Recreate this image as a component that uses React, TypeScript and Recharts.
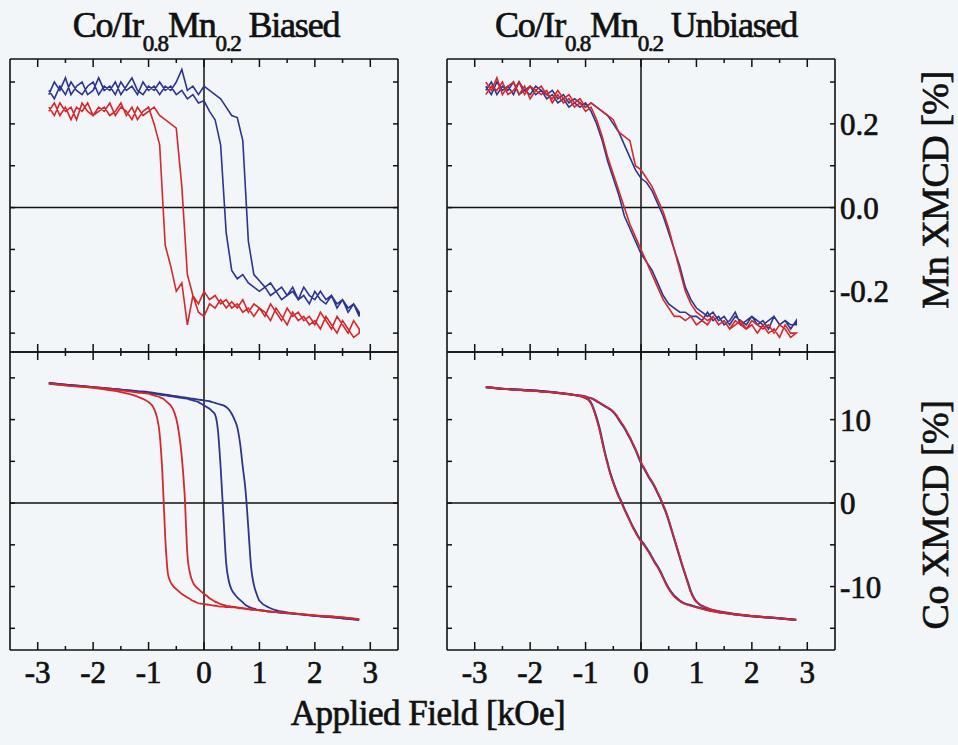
import React from "react";
import { LineChart, Line, XAxis, YAxis, ReferenceLine } from "recharts";

const BLUE = "#2c3590";
const RED = "#d6282c";
const INK = "#111111";
const FONT = "'Liberation Serif', 'DejaVu Serif', serif";

// applied field grid for the Mn XMCD loops (kOe)
const fieldMn = [
  -2.8, -2.7, -2.6, -2.5, -2.4, -2.3, -2.2, -2.1, -2.0, -1.9,
  -1.8, -1.7, -1.6, -1.5, -1.4, -1.3, -1.2, -1.1, -1.0, -0.9,
  -0.8, -0.7, -0.6, -0.5, -0.4, -0.3, -0.2, -0.1, 0, 0.1,
  0.2, 0.3, 0.4, 0.5, 0.6, 0.7, 0.8, 0.9, 1.0, 1.1,
  1.2, 1.3, 1.4, 1.5, 1.6, 1.7, 1.8, 1.9, 2.0, 2.1,
  2.2, 2.3, 2.4, 2.5, 2.6, 2.7, 2.8,
];

// Mn XMCD [%], biased sample
const mnBiasedBlueUp = [
  0.27, 0.30, 0.28, 0.31, 0.27, 0.29, 0.30, 0.27, 0.28, 0.31,
  0.28, 0.29, 0.27, 0.30, 0.28, 0.29, 0.27, 0.30, 0.28, 0.29,
  0.27, 0.29, 0.28, 0.30, 0.33, 0.28, 0.29, 0.27, 0.29, 0.28,
  0.27, 0.26, 0.24, 0.22, 0.215, 0.16, -0.08, -0.16, -0.175, -0.19,
  -0.18, -0.20, -0.19, -0.21, -0.20, -0.22, -0.19, -0.21, -0.22, -0.20,
  -0.22, -0.21, -0.23, -0.22, -0.24, -0.23, -0.25,
];
const mnBiasedBlueDown = [
  0.28, 0.26, 0.29, 0.27, 0.30, 0.28, 0.27, 0.29, 0.30, 0.27,
  0.29, 0.28, 0.30, 0.27, 0.29, 0.31, 0.28, 0.27, 0.29, 0.28,
  0.30, 0.28, 0.29, 0.27, 0.28, 0.26, 0.27, 0.25, 0.255, 0.23,
  0.21, 0.15, -0.06, -0.15, -0.17, -0.16, -0.18, -0.19, -0.20, -0.19,
  -0.21, -0.20, -0.22, -0.21, -0.19, -0.22, -0.21, -0.23, -0.20, -0.22,
  -0.23, -0.21, -0.24, -0.22, -0.25, -0.23, -0.26,
];
const mnBiasedRedUp = [
  0.24, 0.22, 0.25, 0.23, 0.24, 0.21, 0.25, 0.23, 0.22, 0.24,
  0.23, 0.25, 0.22, 0.24, 0.23, 0.21, 0.24, 0.22, 0.23, 0.24,
  0.22, 0.21, 0.20, 0.19, 0.05, -0.16, -0.21, -0.25, -0.26, -0.23,
  -0.24, -0.22, -0.24, -0.225, -0.24, -0.22, -0.25, -0.23, -0.24, -0.26,
  -0.23, -0.25, -0.27, -0.24, -0.26, -0.25, -0.27, -0.26, -0.28, -0.25,
  -0.27, -0.29, -0.26, -0.28, -0.30, -0.27, -0.29,
];
const mnBiasedRedDown = [
  0.23, 0.25, 0.22, 0.24, 0.21, 0.24, 0.23, 0.25, 0.22, 0.23,
  0.24, 0.22, 0.23, 0.25, 0.22, 0.24, 0.21, 0.23, 0.24, 0.20,
  0.15, -0.09, -0.14, -0.20, -0.18, -0.28, -0.21, -0.23, -0.20, -0.22,
  -0.21, -0.23, -0.22, -0.24, -0.23, -0.25, -0.24, -0.26, -0.24, -0.25,
  -0.27, -0.24, -0.26, -0.28, -0.25, -0.27, -0.26, -0.28, -0.27, -0.29,
  -0.26, -0.28, -0.30, -0.27, -0.29, -0.31, -0.30,
];

// Mn XMCD [%], unbiased sample
const mnUnbBlueUp = [
  0.29, 0.27, 0.30, 0.28, 0.29, 0.27, 0.30, 0.28, 0.27, 0.29,
  0.28, 0.27, 0.28, 0.26, 0.27, 0.25, 0.26, 0.25, 0.24, 0.25,
  0.24, 0.23, 0.22, 0.20, 0.18, 0.15, 0.12, 0.09, 0.07, 0.06,
  0.04, 0.01, -0.02, -0.06, -0.10, -0.14, -0.19, -0.22, -0.24, -0.25,
  -0.26, -0.25, -0.27, -0.26, -0.28, -0.26, -0.27, -0.28, -0.26, -0.27,
  -0.28, -0.27, -0.26, -0.28, -0.27, -0.29, -0.27,
];
const mnUnbBlueDown = [
  0.28, 0.30, 0.27, 0.29, 0.28, 0.30, 0.27, 0.28, 0.29, 0.27,
  0.28, 0.26, 0.27, 0.25, 0.26, 0.24, 0.25, 0.24, 0.25, 0.23,
  0.20, 0.16, 0.11, 0.07, 0.03, -0.02, -0.05, -0.08, -0.11, -0.13,
  -0.15, -0.18, -0.21, -0.23, -0.24, -0.25, -0.25, -0.26, -0.26, -0.27,
  -0.25, -0.27, -0.26, -0.28, -0.27, -0.25, -0.28, -0.27, -0.26, -0.28,
  -0.27, -0.29, -0.26, -0.28, -0.27, -0.28, -0.28,
];
const mnUnbRedUp = [
  0.30, 0.28, 0.31, 0.27, 0.29, 0.30, 0.27, 0.29, 0.26, 0.28,
  0.29, 0.27, 0.26, 0.28, 0.26, 0.27, 0.25, 0.26, 0.24, 0.25,
  0.24, 0.23, 0.22, 0.21, 0.18, 0.17, 0.16, 0.10, 0.09, 0.07,
  0.05, 0.02, -0.01, -0.05, -0.10, -0.15, -0.20, -0.23, -0.25, -0.26,
  -0.27, -0.26, -0.28, -0.27, -0.29, -0.27, -0.28, -0.29, -0.27, -0.28,
  -0.29, -0.28, -0.30, -0.28, -0.29, -0.31, -0.30,
];
const mnUnbRedDown = [
  0.27, 0.29, 0.28, 0.30, 0.27, 0.28, 0.30, 0.27, 0.29, 0.28,
  0.27, 0.28, 0.25, 0.27, 0.25, 0.26, 0.24, 0.25, 0.23, 0.24,
  0.21, 0.17, 0.12, 0.08, 0.04, 0.00, -0.04, -0.07, -0.10, -0.13,
  -0.16, -0.19, -0.22, -0.24, -0.26, -0.26, -0.27, -0.26, -0.28, -0.27,
  -0.28, -0.26, -0.28, -0.27, -0.29, -0.28, -0.27, -0.29, -0.28, -0.30,
  -0.28, -0.30, -0.29, -0.31, -0.28, -0.30, -0.30,
];

// applied field grid for the Co XMCD loops (kOe)
const fieldCo = [
  -2.8, -2.5, -2.0, -1.5, -1.2,
  -1.0, -0.95, -0.9, -0.85, -0.8, -0.75, -0.7, -0.65, -0.6, -0.55,
  -0.5, -0.45, -0.4, -0.35, -0.3, -0.25, -0.2, -0.15, -0.1, -0.05,
  0, 0.05, 0.1, 0.15, 0.2, 0.25, 0.3, 0.35, 0.4, 0.45,
  0.5, 0.55, 0.6, 0.65, 0.7, 0.75, 0.8, 0.85, 0.9, 0.95,
  1.0, 1.2, 1.5, 2.0, 2.5, 2.8,
];

// Co XMCD [%], biased sample
const coBiasedBlueUp = [
  14.4, 14.2, 13.9, 13.6, 13.4,
  13.3, 13.25, 13.2, 13.15, 13.1, 13.05, 13.0, 12.95, 12.9, 12.85,
  12.8, 12.75, 12.7, 12.65, 12.6, 12.55, 12.5, 12.45, 12.4, 12.35,
  12.3, 12.25, 12.2, 12.1, 12.0, 11.9, 11.8, 11.7, 11.5, 11.2,
  10.7, 10.0, 9.1, 7.2, 4.3, 1.5, -3.0, -7.7, -9.8, -10.9,
  -11.7, -12.6, -13.1, -13.5, -13.8, -14.0,
];
const coBiasedBlueDown = [
  14.4, 14.2, 13.9, 13.6, 13.35,
  13.2, 13.15, 13.1, 13.05, 13.0, 12.95, 12.9, 12.85, 12.8, 12.75,
  12.7, 12.65, 12.6, 12.55, 12.5, 12.4, 12.3, 12.2, 12.1, 11.9,
  11.7, 11.5, 11.3, 11.0, 10.6, 8.8, 4.3, -1.5, -7.2, -9.4,
  -10.4, -10.9, -11.3, -11.6, -11.9, -12.2, -12.4, -12.55, -12.65, -12.75,
  -12.8, -13.0, -13.2, -13.5, -13.8, -14.0,
];
const coBiasedRedUp = [
  14.3, 14.1, 13.85, 13.5, 13.25,
  13.1, 13.0, 12.9, 12.8, 12.7, 12.55, 12.3, 12.0, 11.7, 11.1,
  10.1, 8.3, 5.5, 1.1, -6.1, -8.5, -9.5, -10.0, -10.3, -10.6,
  -10.9, -11.1, -11.4, -11.6, -11.8, -11.95, -12.1, -12.2, -12.3, -12.35,
  -12.4, -12.45, -12.5, -12.55, -12.6, -12.65, -12.7, -12.75, -12.8, -12.8,
  -12.85, -13.0, -13.15, -13.45, -13.7, -13.9,
];
const coBiasedRedDown = [
  14.3, 14.1, 13.8, 13.3, 12.75,
  12.1, 11.8, 11.3, 10.3, 8.3, 3.5, -4.0, -8.5, -9.5, -10.0,
  -10.3, -10.6, -10.9, -11.1, -11.3, -11.5, -11.7, -11.85, -12.0, -12.05,
  -12.1, -12.15, -12.2, -12.25, -12.3, -12.35, -12.4, -12.4, -12.45, -12.45,
  -12.5, -12.5, -12.55, -12.6, -12.6, -12.65, -12.7, -12.75, -12.75, -12.8,
  -12.85, -13.0, -13.15, -13.45, -13.7, -13.9,
];

// Co XMCD [%], unbiased sample
const coUnbBlueUp = [
  13.9, 13.7, 13.5, 13.2, 12.95,
  12.75, 12.65, 12.55, 12.4, 12.2, 12.0, 11.8, 11.6, 11.4, 11.2,
  10.9, 10.5, 10.0, 9.5, 9.0, 8.4, 7.8, 7.1, 6.4, 5.6,
  4.8, 4.2, 3.6, 3.0, 2.5, 1.9, 1.2, 0.5, -0.3, -1.1,
  -2.1, -3.2, -4.3, -5.4, -6.5, -7.6, -8.6, -9.6, -10.6, -11.3,
  -11.8, -12.6, -13.1, -13.55, -13.8, -14.0,
];
const coUnbBlueDown = [
  13.9, 13.7, 13.5, 13.2, 12.95,
  12.6, 12.4, 12.0, 11.2, 10.2, 9.0, 7.5, 6.0, 4.7, 3.5,
  2.5, 1.6, 0.8, 0.1, -0.7, -1.4, -2.1, -2.8, -3.4, -4.0,
  -4.5, -4.9, -5.4, -5.9, -6.5, -7.1, -7.6, -8.2, -8.9, -9.6,
  -10.2, -10.7, -11.1, -11.4, -11.7, -11.9, -12.05, -12.15, -12.25, -12.35,
  -12.45, -12.8, -13.15, -13.55, -13.8, -14.0,
];
const coUnbRedUp = [
  13.9, 13.7, 13.45, 13.2, 12.95,
  12.75, 12.65, 12.55, 12.4, 12.25, 12.05, 11.85, 11.65, 11.45, 11.25,
  10.95, 10.6, 10.1, 9.6, 9.1, 8.5, 7.9, 7.2, 6.5, 5.7,
  4.9, 4.3, 3.7, 3.1, 2.6, 2.0, 1.3, 0.6, -0.2, -1.0,
  -2.0, -3.1, -4.2, -5.3, -6.4, -7.5, -8.6, -9.7, -10.7, -11.4,
  -11.85, -12.6, -13.1, -13.5, -13.8, -14.0,
];
const coUnbRedDown = [
  13.9, 13.7, 13.45, 13.2, 12.95,
  12.55, 12.35, 11.9, 11.1, 10.0, 8.8, 7.3, 5.9, 4.6, 3.4,
  2.4, 1.5, 0.7, 0.0, -0.8, -1.5, -2.2, -2.9, -3.5, -4.1,
  -4.6, -5.0, -5.5, -6.0, -6.6, -7.2, -7.7, -8.3, -9.0, -9.7,
  -10.3, -10.8, -11.2, -11.5, -11.75, -11.95, -12.1, -12.2, -12.3, -12.4,
  -12.5, -12.85, -13.2, -13.55, -13.8, -14.0,
];

const fieldTicks = [-3, -2.5, -2, -1.5, -1, -0.5, 0, 0.5, 1, 1.5, 2, 2.5, 3];
const fieldLabels = [-3, -2, -1, 0, 1, 2, 3];
const mnTicks = [-0.3, -0.2, -0.1, 0, 0.1, 0.2, 0.3];
const mnLabels = [-0.2, 0, 0.2];
const coTicks = [-15, -10, -5, 0, 5, 10, 15];
const coLabels = [-10, 0, 10];

const loop = (field: number[], up: number[], down: number[]) => [
  ...field.map((h, i) => ({ h, v: up[i] })),
  ...field.map((h, i) => ({ h, v: down[i] })).reverse(),
];
const branch = (field: number[], vals: number[]) => field.map((h, i) => ({ h, v: vals[i] }));

type Side = "top" | "bottom" | "left" | "right";

// scanned print looks heavy, so text gets a thin outline
const textStyle = { fontFamily: FONT, fill: INK, stroke: INK, strokeWidth: 0.7 };

const tickMark = (side: Side, labels: number[] = [], fmt = (v: number) => String(v)) => (props: any) => {
  const { x, y, payload } = props;
  const v = payload.value;
  const isX = side === "top" || side === "bottom";
  const len = isX ? (Number.isInteger(v) ? 8 : 4) : 5;
  const dx = side === "left" ? len : side === "right" ? -len : 0;
  const dy = side === "top" ? len : side === "bottom" ? -len : 0;
  const show = labels.includes(v);
  return (
    <g>
      <line x1={x} y1={y} x2={x + dx} y2={y + dy} stroke={INK} strokeWidth={1.5} />
      {show && side === "bottom" && (
        <text x={x} y={y + 33} textAnchor="middle" fontSize={31} {...textStyle}>
          {fmt(v)}
        </text>
      )}
      {show && side === "right" && (
        <text x={x + 5} y={y + 11} textAnchor="start" fontSize={31} {...textStyle}>
          {fmt(v)}
        </text>
      )}
    </g>
  );
};

// axes take 1px each, so the margins are 1px smaller to keep the plot box in place
const M = { top: 3, right: 69, bottom: 43, left: 3 };
const axisLine = { stroke: INK, strokeWidth: 1.6 };

type Series = { data: { h: number; v: number }[]; color: string; curve: "linear" | "monotone"; width: number };

function Panel(props: {
  left: number;
  top: number;
  width: number;
  height: number;
  yDomain: [number, number];
  yTicks: number[];
  xLabels: number[];
  yLabels: number[];
  yFmt: (v: number) => string;
  series: Series[];
}) {
  const { left, top, width, height, yDomain, yTicks, xLabels, yLabels, yFmt, series } = props;
  const common = { tickSize: 0, tickMargin: 0, tickLine: false, axisLine, interval: 0 as const, allowDataOverflow: true };
  return (
    <div style={{ position: "absolute", left: left - M.left - 1, top: top - M.top - 1 }}>
      <LineChart width={width + M.left + M.right + 2} height={height + M.top + M.bottom + 2} margin={M}>
        <XAxis xAxisId="b" orientation="bottom" dataKey="h" type="number" domain={[-3.5, 3.5]} ticks={fieldTicks} height={1} tick={tickMark("bottom", xLabels)} {...common} />
        <XAxis xAxisId="t" orientation="top" dataKey="h" type="number" domain={[-3.5, 3.5]} ticks={fieldTicks} height={1} tick={tickMark("top")} {...common} />
        <YAxis yAxisId="l" orientation="left" type="number" domain={yDomain} ticks={yTicks} width={1} tick={tickMark("left")} {...common} />
        <YAxis yAxisId="r" orientation="right" type="number" domain={yDomain} ticks={yTicks} width={1} tick={tickMark("right", yLabels, yFmt)} {...common} />
        <ReferenceLine xAxisId="b" yAxisId="l" x={0} stroke={INK} strokeWidth={1.5} />
        <ReferenceLine xAxisId="b" yAxisId="l" y={0} stroke={INK} strokeWidth={1.5} />
        {series.map((s, i) => (
          <Line
            key={i}
            xAxisId="b"
            yAxisId="l"
            data={s.data}
            dataKey="v"
            type={s.curve}
            stroke={s.color}
            strokeWidth={s.width}
            dot={false}
            activeDot={false}
            isAnimationActive={false}
          />
        ))}
      </LineChart>
    </div>
  );
}

const mnFmt = (v: number) => v.toFixed(1);
const coFmt = (v: number) => String(v);
const MN_DOMAIN: [number, number] = [-0.345, 0.355];
const CO_DOMAIN: [number, number] = [-17.6, 18.1];

const Title = ({ cx, word }: { cx: number; word: string }) => (
  <text x={cx} y={37} textAnchor="middle" fontSize={36} letterSpacing={-1.2} {...textStyle}>
    Co/Ir
    <tspan fontSize={23} dy={14}>0.8</tspan>
    <tspan dy={-14}>Mn</tspan>
    <tspan fontSize={23} dy={14}>0.2</tspan>
    <tspan dy={-14}>{" " + word}</tspan>
  </text>
);

export default function App() {
  return (
    <div style={{ position: "absolute", left: 0, top: 0, width: 958, height: 745, background: "#f2f6f8", overflow: "hidden" }}>
      <svg width={958} height={745} style={{ position: "absolute", left: 0, top: 0 }}>
        <Title cx={206} word="Biased" />
        <Title cx={646} word="Unbiased" />
        <text x={428} y={725} textAnchor="middle" fontSize={35} letterSpacing={-0.5} {...textStyle}>
          Applied Field [kOe]
        </text>
        <text transform="translate(948,190) rotate(-90)" textAnchor="middle" fontSize={38} letterSpacing={-0.5} {...textStyle}>
          Mn XMCD [%]
        </text>
        <text transform="translate(948,515) rotate(-90)" textAnchor="middle" fontSize={38} letterSpacing={-0.5} {...textStyle}>
          Co XMCD [%]
        </text>
      </svg>
      <Panel
        left={10} top={59} width={388} height={293}
        yDomain={MN_DOMAIN} yTicks={mnTicks} xLabels={[]} yLabels={[]} yFmt={mnFmt}
        series={[
          { data: loop(fieldMn, mnBiasedBlueUp, mnBiasedBlueDown), color: BLUE, curve: "linear", width: 1.6 },
          { data: loop(fieldMn, mnBiasedRedUp, mnBiasedRedDown), color: RED, curve: "linear", width: 1.6 },
        ]}
      />
      <Panel
        left={447} top={59} width={388} height={293}
        yDomain={MN_DOMAIN} yTicks={mnTicks} xLabels={[]} yLabels={mnLabels} yFmt={mnFmt}
        series={[
          { data: loop(fieldMn, mnUnbBlueUp, mnUnbBlueDown), color: BLUE, curve: "linear", width: 1.6 },
          { data: loop(fieldMn, mnUnbRedUp, mnUnbRedDown), color: RED, curve: "linear", width: 1.6 },
        ]}
      />
      <Panel
        left={10} top={352} width={388} height={298}
        yDomain={CO_DOMAIN} yTicks={coTicks} xLabels={fieldLabels} yLabels={[]} yFmt={coFmt}
        series={[
          { data: branch(fieldCo, coBiasedBlueUp), color: BLUE, curve: "monotone", width: 1.8 },
          { data: branch(fieldCo, coBiasedBlueDown), color: BLUE, curve: "monotone", width: 1.8 },
          { data: branch(fieldCo, coBiasedRedUp), color: RED, curve: "monotone", width: 1.8 },
          { data: branch(fieldCo, coBiasedRedDown), color: RED, curve: "monotone", width: 1.8 },
        ]}
      />
      <Panel
        left={447} top={352} width={388} height={298}
        yDomain={CO_DOMAIN} yTicks={coTicks} xLabels={fieldLabels} yLabels={coLabels} yFmt={coFmt}
        series={[
          { data: branch(fieldCo, coUnbBlueUp), color: BLUE, curve: "monotone", width: 2.2 },
          { data: branch(fieldCo, coUnbBlueDown), color: BLUE, curve: "monotone", width: 2.2 },
          { data: branch(fieldCo, coUnbRedUp), color: RED, curve: "monotone", width: 1.6 },
          { data: branch(fieldCo, coUnbRedDown), color: RED, curve: "monotone", width: 1.6 },
        ]}
      />
    </div>
  );
}
